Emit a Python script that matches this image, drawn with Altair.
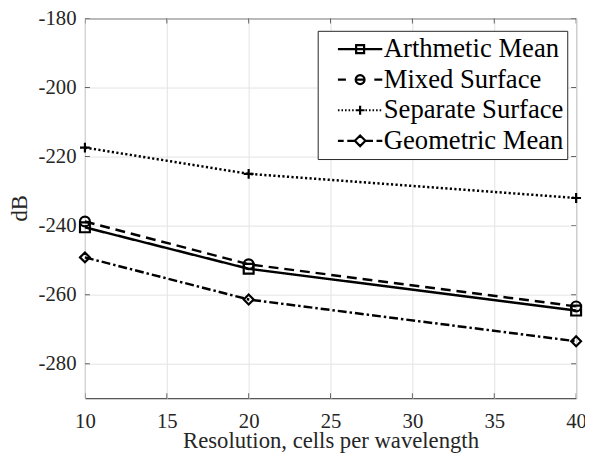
import altair as alt
import pandas as pd

# ---------------- data ----------------
RESOLUTION = [10, 20, 40]
SERIES = ["Arthmetic Mean", "Mixed Surface", "Separate Surface", "Geometric Mean"]
ARITHMETIC = [-240.5, -252.5, -264.6]
MIXED = [-238.8, -251.2, -263.4]
SEPARATE = [-217.4, -225.0, -232.0]
GEOMETRIC = [-249.2, -261.4, -273.5]
X_TICKS = [10, 15, 20, 25, 30, 35, 40]
Y_TICKS = [-280, -260, -240, -220, -200, -180]
X_DOMAIN = [10, 40]
Y_DOMAIN = [-290, -180]
X_TITLE = "Resolution, cells per wavelength"
Y_TITLE = "dB"

VALUES = {
    "Arthmetic Mean": ARITHMETIC,
    "Mixed Surface": MIXED,
    "Separate Surface": SEPARATE,
    "Geometric Mean": GEOMETRIC,
}
rows = []
for s in SERIES:
    for xv, yv in zip(RESOLUTION, VALUES[s]):
        rows.append({"series": s, "x": xv, "y": yv})
df = pd.DataFrame(rows)

# ---------------- styles ----------------
FONT = "Liberation Serif, Times New Roman, Times, serif"
INK = "#262626"
DASHES = [[1, 0], [10, 6], [2.2, 2.4], [9, 3, 2.5, 3]]
MARKERS = ["square", "circle", "M-1,0H1M0,-1V1", "diamond"]


def segs(pairs):
    return "".join(f"M{a:.3f},0H{b:.3f}" for a, b in pairs)


def dotted(a, b, step=0.16, dot=0.07):
    out = []
    x = a
    while x < b - 1e-9:
        out.append((x, min(x + dot, b)))
        x += step
    return out


m = 0.18
SQUARE = f"M{-m},{-m}H{m}V{m}H{-m}Z"
r = 0.2
CIRCLE = f"M{-r},0A{r},{r} 0 1,0 {r},0A{r},{r} 0 1,0 {-r},0"
PLUS = "M-0.2,0H0.2M0,-0.2V0.2"
d = 0.24
DIAMOND = f"M{-d},0L0,{-d}L{d},0L0,{d}Z"

LEGEND_PATHS = [
    segs([(-1, 1)]) + SQUARE,
    segs([(-1, -0.64), (-0.2, 0.2), (0.64, 1)]) + CIRCLE,
    segs(dotted(-1, -0.22) + dotted(0.24, 1)) + PLUS,
    segs([(-1, -0.74), (-0.58, -0.24), (0.24, 0.58), (0.74, 1)]) + DIAMOND,
]

HYPHEN = "replace(datum.label, '\u2212', '-')"

x_enc = alt.X(
    "x:Q",
    scale=alt.Scale(domain=X_DOMAIN, nice=False, zero=False),
    axis=alt.Axis(values=X_TICKS, labelBaseline="alphabetic", labelPadding=30,
                  labelFlush=False, labelFont=FONT, labelFontSize=21,
                  titleY=50, titleBaseline="alphabetic"),
    title=X_TITLE,
)
y_enc = alt.Y(
    "y:Q",
    scale=alt.Scale(domain=Y_DOMAIN, nice=False, zero=False),
    axis=alt.Axis(values=Y_TICKS, labelPadding=9, labelFont=FONT, labelFontSize=21,
                  labelExpr=HYPHEN,
                  titleX=-66, titleY=192, titleBaseline="middle", titleAngle=270),
    title=Y_TITLE,
)

base = alt.Chart(df)

lines = base.mark_line(color="black", strokeWidth=2.5).encode(
    x=x_enc,
    y=y_enc,
    detail="series:N",
    strokeDash=alt.StrokeDash("series:N", scale=alt.Scale(domain=SERIES, range=DASHES), legend=None),
)

points = base.mark_point(filled=False, color="black", strokeWidth=2.2, opacity=1, size=100).encode(
    x="x:Q",
    y="y:Q",
    shape=alt.Shape("series:N", scale=alt.Scale(domain=SERIES, range=MARKERS), legend=None),
)

legend_layer = (
    base.transform_filter("false")
    .mark_point(filled=False, color="black", strokeWidth=2, opacity=1)
    .encode(
        x="x:Q",
        y="y:Q",
        shape=alt.Shape(
            "series:N",
            scale=alt.Scale(domain=SERIES, range=LEGEND_PATHS),
            legend=alt.Legend(
                title=None,
                orient="none",
                legendX=236,
                legendY=12.5,
                padding=3,
                rowPadding=0,
                clipHeight=31,
                symbolSize=2025,
                symbolStrokeWidth=2.2,
                symbolStrokeColor="black",
                symbolFillColor="transparent",
                symbolOpacity=1,
                symbolOffset=16,
                labelOffset=0,
                labelFont=FONT,
                labelFontSize=27,
                labelColor="black",
                labelLimit=400,
                strokeColor=INK,
                fillColor="white",
            ),
        ),
    )
)

ytick_df = pd.DataFrame({"y": Y_TICKS})
xtick_df = pd.DataFrame({"x": X_TICKS})
tick_style = dict(color=INK, thickness=1, size=10, clip=True)
left_ticks = alt.Chart(ytick_df).mark_tick(orient="horizontal", **tick_style).encode(
    x=alt.datum(X_DOMAIN[0]), y="y:Q")
right_ticks = alt.Chart(ytick_df).mark_tick(orient="horizontal", **tick_style).encode(
    x=alt.datum(X_DOMAIN[1]), y="y:Q")
bottom_ticks = alt.Chart(xtick_df).mark_tick(orient="vertical", **tick_style).encode(
    x="x:Q", y=alt.datum(Y_DOMAIN[0]))
top_ticks = alt.Chart(xtick_df).mark_tick(orient="vertical", **tick_style).encode(
    x="x:Q", y=alt.datum(Y_DOMAIN[1]))

chart = (
    alt.layer(left_ticks, right_ticks, bottom_ticks, top_ticks, lines, points, legend_layer)
    .resolve_scale(shape="independent")
    .properties(
        width=498,
        height=385,
        padding={"left": 78, "top": 7.5, "right": 9, "bottom": 60},
        autosize=alt.AutoSizeParams(type="none"),
        background="white",
    )
    .configure(font=FONT)
    .configure_view(stroke=INK, strokeWidth=1)
    .configure_axis(
        domain=False,
        ticks=False,
        grid=True,
        gridColor="#e3e3e3",
        gridWidth=1,
        labelFont=FONT,
        labelFontSize=21,
        labelColor=INK,
        titleFont=FONT,
        titleFontSize=23,
        titleFontWeight="normal",
        titleColor=INK,
    )
)

chart.save("out.html", embed_options={"renderer": "svg", "actions": False})
